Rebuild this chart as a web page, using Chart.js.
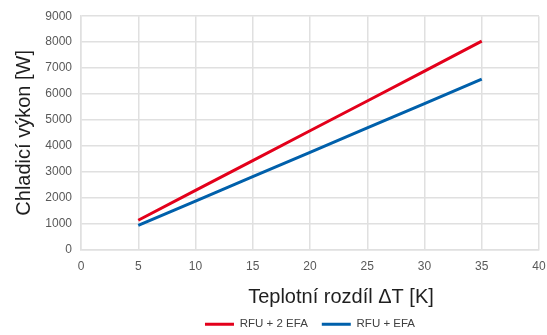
<!DOCTYPE html>
<html>
<head>
<meta charset="utf-8">
<script src="https://cdn.jsdelivr.net/npm/chart.js@4"></script>
<style>
  html, body { margin: 0; padding: 0; background: #fff; }
  #wrap { width: 547px; height: 335px; }
</style>
</head>
<body>
<div id="wrap"><canvas id="chart" width="547" height="335"></canvas></div>
<script>
// temperature difference [K]
const deltaT = [5, 10, 15, 20, 25, 30, 35];
// cooling power [W]
const rfu2Efa = [1130, 2280, 3430, 4580, 5730, 6880, 8040];
const rfuEfa = [930, 1870, 2810, 3750, 4690, 5630, 6570];
const seriesNames = ['RFU + 2 EFA', 'RFU + EFA'];
const xTitle = 'Teplotní rozdíl ΔT [K]';
const yTitle = 'Chladicí výkon [W]';

const FONT = "'Liberation Sans', Arial, sans-serif";
const colors = { red: '#e3001b', blue: '#0060ab', grid: '#e0e0e0', tick: '#595959', title: '#1f1f1f' };

// x-axis title sits a bit right of the plot centre
const xTitlePlugin = {
    id: 'xTitle',
    afterDraw(chart) {
        const ctx = chart.ctx;
        ctx.save();
        ctx.font = '20px ' + FONT;
        ctx.fillStyle = colors.title;
        ctx.textAlign = 'center';
        ctx.textBaseline = 'middle';
        ctx.fillText(xTitle, 341, 297);
        ctx.restore();
    }
};

const toPoints = (ys) => deltaT.map((x, i) => ({ x, y: ys[i] }));

new Chart(document.getElementById('chart'), {
    type: 'line',
    data: {
        datasets: [
            { label: seriesNames[0], data: toPoints(rfu2Efa), borderColor: colors.red, backgroundColor: colors.red, borderWidth: 3, pointRadius: 0, tension: 0 },
            { label: seriesNames[1], data: toPoints(rfuEfa), borderColor: colors.blue, backgroundColor: colors.blue, borderWidth: 3, pointRadius: 0, tension: 0 }
        ]
    },
    options: {
        responsive: false,
        animation: false,
        layout: { padding: { top: 16, right: 8, left: 0, bottom: -5 } },
        plugins: {
            tooltip: { enabled: false },
            legend: {
                position: 'bottom',
                fullSize: false,
                labels: {
                    usePointStyle: true,
                    pointStyle: 'line',
                    pointStyleWidth: 29,
                    padding: 14,
                    color: '#404040',
                    font: { family: FONT, size: 11.5 }
                }
            }
        },
        scales: {
            x: {
                type: 'linear',
                min: 0, max: 40,
                ticks: { stepSize: 5, padding: 10, color: colors.tick, font: { family: FONT, size: 12 } },
                grid: { color: colors.grid, lineWidth: 1.5, drawTicks: false },
                border: { color: colors.grid, width: 1.5 },
                afterFit(scale) {
                    scale.height = 55;
                    scale.paddingLeft = 0;
                    scale.paddingRight = 0;
                }
            },
            y: {
                min: 0, max: 9000,
                ticks: { stepSize: 1000, padding: 9, color: colors.tick, font: { family: FONT, size: 12 }, callback: (v) => String(v) },
                grid: { color: colors.grid, lineWidth: 1.5, drawTicks: false },
                border: { color: colors.grid, width: 1.5 },
                title: { display: true, text: yTitle, color: colors.title, font: { family: FONT, size: 20 }, padding: { top: 12, bottom: 0 } },
                afterFit(scale) { scale.width = 81; }
            }
        }
    },
    plugins: [xTitlePlugin]
});
</script>
</body>
</html>
